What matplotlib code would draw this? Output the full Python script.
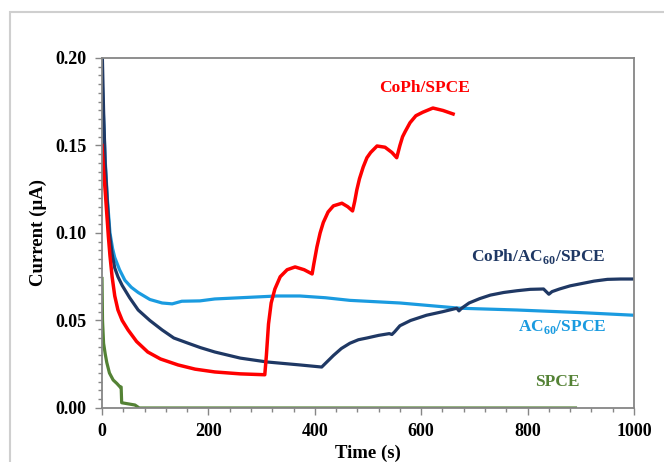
import matplotlib.pyplot as plt
from matplotlib.patches import Rectangle
from matplotlib.ticker import MultipleLocator, FormatStrFormatter

# Chronoamperometry curves (time in s, current in uA)
coph_t = [0, 3, 6, 9, 12, 15, 19, 24, 30, 38, 49, 65, 86, 110, 143, 175, 212, 260, 306,
          309, 313, 318, 325, 335, 348, 363, 380, 395,
          398, 404, 410, 416, 425, 435, 451, 462, 471,
          475, 479, 484, 491, 498, 505, 517, 532, 545, 554,
          560, 565, 570, 579, 590, 603, 622, 641, 660]
coph_i = [0.150, 0.136, 0.124, 0.111, 0.098, 0.087, 0.075, 0.064, 0.056, 0.050, 0.0446, 0.038, 0.032, 0.028, 0.0246, 0.0222, 0.0206, 0.0195, 0.019,
          0.030, 0.048, 0.060, 0.068, 0.075, 0.079, 0.0806, 0.079, 0.0766,
          0.082, 0.092, 0.100, 0.106, 0.112, 0.1155, 0.117, 0.115, 0.1126,
          0.118, 0.1246, 0.131, 0.1377, 0.143, 0.146, 0.1497, 0.149, 0.146, 0.143,
          0.150, 0.155, 0.158, 0.163, 0.167, 0.169, 0.1714, 0.170, 0.168]

coph_ac_t = [0, 3, 6, 10, 14, 19, 24, 30, 38, 52, 68, 90, 113, 135, 162, 185, 212, 260, 310, 372, 413,
             425, 435, 450, 466, 482, 498, 520, 540, 545, 550,
             560, 580, 610, 640, 667, 671, 676,
             690, 710, 730, 755, 780, 805, 830, 840, 846,
             860, 880, 900, 925, 950, 975, 1000]
coph_ac_i = [0.21, 0.170, 0.140, 0.118, 0.100, 0.088, 0.080, 0.075, 0.070, 0.063, 0.056, 0.050, 0.0446, 0.040, 0.037, 0.0345, 0.032, 0.0285, 0.0263, 0.0246, 0.0234,
             0.027, 0.030, 0.034, 0.037, 0.039, 0.040, 0.0415, 0.0425, 0.042, 0.0435,
             0.047, 0.050, 0.053, 0.055, 0.057, 0.0555, 0.057,
             0.060, 0.0625, 0.0645, 0.066, 0.067, 0.0678, 0.068, 0.065, 0.0665,
             0.068, 0.0698, 0.071, 0.0725, 0.0735, 0.0737, 0.0737]

ac_t = [0, 3, 6, 10, 15, 20, 24, 33, 43, 55, 68, 90, 113, 132, 150, 184, 212, 260, 329, 372,
        420, 466, 560, 673, 780, 900, 1000]
ac_i = [0.19, 0.165, 0.142, 0.120, 0.100, 0.091, 0.086, 0.079, 0.073, 0.069, 0.066, 0.062, 0.060, 0.0595, 0.061, 0.0612, 0.0623, 0.063, 0.064, 0.064,
        0.063, 0.0615, 0.060, 0.057, 0.056, 0.0545, 0.053]

spce_t = [0, 1, 3, 6, 9, 14, 21, 28, 34, 36, 37, 62, 70, 890]
spce_i = [0.074, 0.050, 0.037, 0.031, 0.026, 0.020, 0.016, 0.014, 0.012, 0.012, 0.003, 0.0017, 0.0, 0.0]

RED = "#FF0000"
NAVY = "#1F3864"
LIGHT_BLUE = "#1A9BE0"
GREEN = "#548235"

plt.rcParams['font.family'] = ['Liberation Serif', 'DejaVu Serif']
plt.rcParams['font.weight'] = 'bold'
plt.rcParams['mathtext.fontset'] = 'custom'
plt.rcParams['mathtext.rm'] = 'Liberation Serif:bold'

fig = plt.figure(figsize=(6.64, 4.62), dpi=100)
ax = fig.add_axes([0.1536, 0.1169, 0.8012, 0.7576])

# light gray picture frame (cropped on the right and bottom)
fig.patches.append(Rectangle((10 / 664, -0.2), 1.2, 1.2 - 12 / 462,
                             transform=fig.transFigure, fill=False,
                             edgecolor="#cfcfcf", linewidth=1.5))

ax.plot(ac_t, ac_i, color=LIGHT_BLUE, lw=2.3)
ax.plot(coph_ac_t, coph_ac_i, color=NAVY, lw=2.3)
ax.plot(coph_t, coph_i, color=RED, lw=2.5)
ax.plot(spce_t, spce_i, color=GREEN, lw=2.3)

ax.set_xlim(0, 1000)
ax.set_ylim(0, 0.20)
ax.xaxis.set_major_locator(MultipleLocator(200))
ax.xaxis.set_minor_locator(MultipleLocator(40))
ax.yaxis.set_major_locator(MultipleLocator(0.05))
ax.yaxis.set_minor_locator(MultipleLocator(0.005))
ax.yaxis.set_major_formatter(FormatStrFormatter('%.2f'))

for s in ax.spines.values():
    s.set_color("#868686")
    s.set_linewidth(1.3)
ax.tick_params(which='both', direction='out', color="#868686", labelsize=13, width=1)
ax.tick_params(which='major', length=5, pad=6)
ax.tick_params(which='minor', length=3)

ax.set_xlabel("Time (s)", fontsize=13.5, fontweight='bold', labelpad=3)
ax.set_ylabel("Current (\u00b5A)", fontsize=13.5, fontweight='bold', labelpad=6)

ax.text(607, 0.183, "CoPh/SPCE", color=RED, fontsize=12.5, fontweight='bold', ha='center', va='center')
ax.text(820, 0.0863, "CoPh/AC$_{60}$/SPCE", color=NAVY, fontsize=12.5, fontweight='bold', ha='center', va='center')
ax.text(864, 0.0463, "AC$_{60}$/SPCE", color=LIGHT_BLUE, fontsize=12.5, fontweight='bold', ha='center', va='center')
ax.text(855, 0.0149, "SPCE", color=GREEN, fontsize=12.5, fontweight='bold', ha='center', va='center')

fig.savefig("out.png", dpi=100)
